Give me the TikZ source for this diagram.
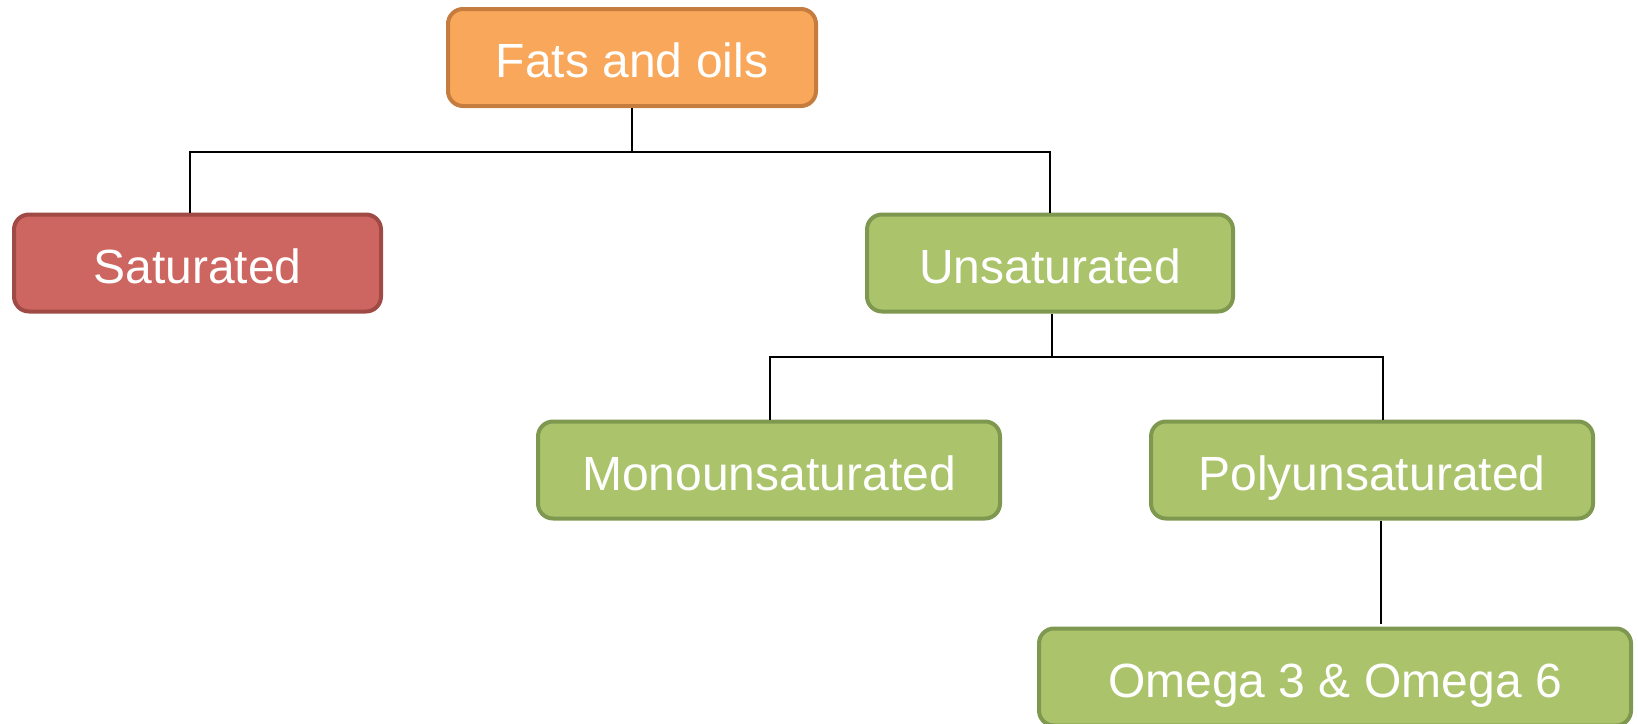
\documentclass[tikz,border=0pt]{standalone}
\usepackage{fontspec}
\setmainfont{Liberation Sans}
\definecolor{orfill}{HTML}{F9A75A}
\definecolor{ordraw}{HTML}{C47D3F}
\definecolor{rdfill}{HTML}{CD6660}
\definecolor{rddraw}{HTML}{A04A46}
\definecolor{grfill}{HTML}{ABC46C}
\definecolor{grdraw}{HTML}{7F9850}
\begin{document}
\begin{tikzpicture}[x=1pt,y=-1pt,
  box/.style={rounded corners=15pt, line width=4pt, minimum height=97pt, text=white,
    font=\fontsize{48}{54}\selectfont, inner sep=0pt, text height=40pt, text depth=0pt},
  conn/.style={line width=1.8pt, black}]
\useasboundingbox (0,0) rectangle (1638,723);
\node[box, fill=orfill, draw=ordraw, minimum width=368pt] (fats) at (632,57.5) {Fats and oils};
\node[box, fill=rdfill, draw=rddraw, minimum width=367pt] (sat) at (197.5,263) {Saturated};
\node[box, fill=grfill, draw=grdraw, minimum width=366pt] (unsat) at (1050,263) {Unsaturated};
\node[box, fill=grfill, draw=grdraw, minimum width=462pt] (mono) at (769,470) {Monounsaturated};
\node[box, fill=grfill, draw=grdraw, minimum width=442pt] (poly) at (1372,470) {Polyunsaturated};
\node[box, fill=grfill, draw=grdraw, minimum width=592pt] (omega) at (1335,677) {Omega 3 \& Omega 6};
\coordinate (b1) at (632,152);
\coordinate (b2) at (1052,357);
\coordinate (o1) at (1381,624);
\draw[conn] (fats.south) -- (b1);
\draw[conn] ([xshift=-7.5pt]sat.north) |- (b1) -| (unsat.north);
\draw[conn] (unsat.south -| b2) -- (b2);
\draw[conn] ([xshift=1pt]mono.north) |- (b2) -| ([xshift=11pt]poly.north);
\draw[conn] (poly.south -| o1) -- (o1);
\end{tikzpicture}
\end{document}
